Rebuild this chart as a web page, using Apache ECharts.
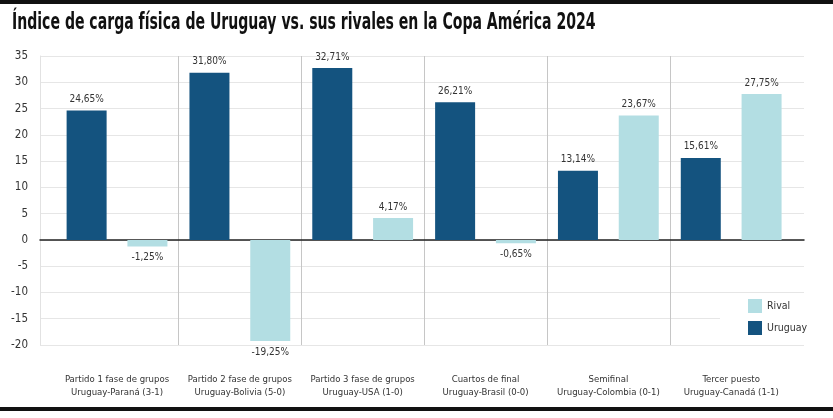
<!DOCTYPE html>
<html>
<head>
<meta charset="utf-8">
<script src="https://cdn.jsdelivr.net/npm/echarts@6/dist/echarts.min.js"></script>
<style>
  html, body { margin: 0; padding: 0; background: #fff; }
  #chart { width: 833px; height: 418px; }
</style>
</head>
<body>
<div id="chart"></div>
<script>
// datos
var partidos = [
  'Partido 1 fase de grupos\nUruguay-Paraná (3-1)',
  'Partido 2 fase de grupos\nUruguay-Bolivia (5-0)',
  'Partido 3 fase de grupos\nUruguay-USA (1-0)',
  'Cuartos de final\nUruguay-Brasil (0-0)',
  'Semifinal\nUruguay-Colombia (0-1)',
  'Tercer puesto\nUruguay-Canadá (1-1)'
];
var uruguay = [24.65, 31.80, 32.71, 26.21, 13.14, 15.61];
var rival = [-1.25, -19.25, 4.17, -0.65, 23.67, 27.75];
var yMin = -20, yMax = 35, yStep = 5;

var fuente = '"Liberation Sans Narrow", "DejaVu Sans Condensed", "Roboto", sans-serif';
var azul = '#14537f';
var celeste = '#b3dee3';

function etiqueta(v) {
  return v.toFixed(2).replace('.', ',') + '%';
}
function datos(arr) {
  return arr.map(function (v) {
    return { value: v, label: { position: v < 0 ? 'bottom' : 'top' } };
  });
}

var chart = echarts.init(document.getElementById('chart'));
chart.setOption({
  animation: false,
  backgroundColor: '#fff',
  textStyle: { fontFamily: fuente },
  graphic: [
    { type: 'rect', shape: { x: 0, y: 0, width: 833, height: 4 }, style: { fill: '#111' } },
    { type: 'rect', shape: { x: 0, y: 407, width: 833, height: 4 }, style: { fill: '#111' } },
    {
      type: 'text', x: 12, y: 11, scaleX: 0.665,
      style: {
        text: 'Índice de carga física de Uruguay vs. sus rivales en la Copa América 2024',
        font: 'bold 23.5px ' + fuente, fill: '#111'
      }
    }
  ],
  legend: {
    data: ['Rival', 'Uruguay'],
    orient: 'vertical',
    left: 720, top: 294,
    icon: 'rect',
    itemWidth: 14, itemHeight: 14, itemGap: 8,
    backgroundColor: '#fff',
    padding: [5, 4, 5, 28],
    textStyle: { fontSize: 10.5, color: '#333', fontFamily: fuente }
  },
  grid: [
    { left: 55.6, right: 40.4, top: 56, bottom: 73 },
    { left: 40, right: 29, top: 56, bottom: 73 }
  ],
  xAxis: [
    {
      type: 'category', gridIndex: 0, data: partidos,
      axisLine: { show: false }, axisTick: { show: false },
      splitLine: { show: true, interval: 0, showMinLine: false, showMaxLine: false, lineStyle: { color: '#c6c6c6' } },
      axisLabel: { interval: 0, margin: 28, fontSize: 9.5, lineHeight: 13, color: '#333', fontFamily: fuente }
    },
    {
      type: 'category', gridIndex: 1, data: [''],
      axisLine: { show: true, onZero: true, lineStyle: { color: '#222', width: 1.5 } },
      axisTick: { show: false }, axisLabel: { show: false }, splitLine: { show: false }
    }
  ],
  yAxis: [
    { type: 'value', gridIndex: 0, min: yMin, max: yMax, interval: yStep, show: false },
    {
      type: 'value', gridIndex: 1, min: yMin, max: yMax, interval: yStep,
      axisLine: { show: true, lineStyle: { color: '#e2e2e2' } },
      axisTick: { show: false },
      splitLine: { lineStyle: { color: '#e6e6e6' } },
      axisLabel: { margin: 12, fontSize: 11.5, color: '#333', fontFamily: fuente }
    }
  ],
  series: [
    {
      name: 'Uruguay', type: 'bar', xAxisIndex: 0, yAxisIndex: 0,
      barWidth: 40, barGap: '52%',
      itemStyle: { color: azul },
      label: { show: true, distance: 6, fontSize: 10, color: '#333', fontFamily: fuente,
        formatter: function (p) { return etiqueta(p.value); } },
      data: datos(uruguay)
    },
    {
      name: 'Rival', type: 'bar', xAxisIndex: 0, yAxisIndex: 0,
      barWidth: 40, barGap: '52%',
      itemStyle: { color: celeste },
      label: { show: true, distance: 6, fontSize: 10, color: '#333', fontFamily: fuente,
        formatter: function (p) { return etiqueta(p.value); } },
      data: datos(rival)
    }
  ]
});
</script>
</body>
</html>
